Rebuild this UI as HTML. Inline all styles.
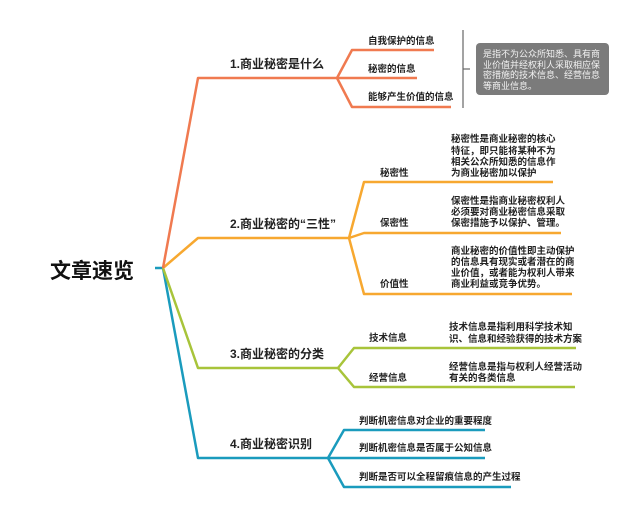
<!DOCTYPE html>
<html><head><meta charset="utf-8"><style>
body{margin:0;background:#fff;}
svg text{font-family:"Liberation Sans","Noto Sans CJK SC",sans-serif;}
</style></head><body>
<svg width="640" height="519" xmlns="http://www.w3.org/2000/svg">
<g fill="none" stroke-width="2.5" stroke-linejoin="round">
<polyline stroke="#1a9bbd" points="155,268 163,268 198,458 328,458"/>
<polyline stroke="#1a9bbd" points="485,430 344,430 328,458 344,487 511,487"/>
<line stroke="#1a9bbd" x1="328" y1="458" x2="485" y2="458"/>
<polyline stroke="#a8c43a" points="163,268 198,368 338,368"/>
<polyline stroke="#a8c43a" points="576,348 354,348 338,368 354,387 575,387"/>
<polyline stroke="#f7a830" points="163,268 198,238 349,238"/>
<polyline stroke="#f7a830" points="553,182 364,182 349,238 364,294 572,294"/>
<polyline stroke="#f7a830" points="349,238 364,233 561,233"/>
<polyline stroke="#f07a50" points="163,268 198,78 337,78"/>
<polyline stroke="#f07a50" points="434,50 352,50 337,78 352,107 451,107"/>
<line stroke="#f07a50" x1="337" y1="78" x2="417" y2="78"/>
</g>
<line x1="463" y1="30" x2="463" y2="108" stroke="#666" stroke-width="1.2"/>
<line x1="463" y1="69" x2="470" y2="69" stroke="#666" stroke-width="1.2"/>
<rect x="476" y="43" width="133" height="52" rx="4" fill="#7b7b7b"/>
<g fill="#f2f2f2" font-size="9">
<text x="483" y="57">是指不为公众所知悉、具有商</text>
<text x="483" y="68">业价值并经权利人采取相应保</text>
<text x="483" y="78">密措施的技术信息、经营信息</text>
<text x="483" y="89">等商业信息。</text>
</g>
<text x="50" y="278" font-size="21" font-weight="bold" fill="#111">文章速览</text>
<g font-size="12" font-weight="bold" fill="#222">
<text x="230" y="68">1.商业秘密是什么</text>
<text x="230" y="228">2.商业秘密的“三性”</text>
<text x="230" y="358">3.商业秘密的分类</text>
<text x="230" y="448">4.商业秘密识别</text>
</g>
<g font-size="9.5" fill="#222" font-weight="600">
<text x="368" y="44">自我保护的信息</text>
<text x="368" y="72">秘密的信息</text>
<text x="368" y="100">能够产生价值的信息</text>
<text x="380" y="176">秘密性</text>
<text x="380" y="226">保密性</text>
<text x="380" y="287">价值性</text>
<text x="451" y="142">秘密性是商业秘密的核心</text>
<text x="451" y="154">特征，即只能将某种不为</text>
<text x="451" y="165">相关公众所知悉的信息作</text>
<text x="451" y="176">为商业秘密加以保护</text>
<text x="451" y="204">保密性是指商业秘密权利人</text>
<text x="451" y="215">必须要对商业秘密信息采取</text>
<text x="451" y="226">保密措施予以保护、管理。</text>
<text x="451" y="254">商业秘密的价值性即主动保护</text>
<text x="451" y="265">的信息具有现实或者潜在的商</text>
<text x="451" y="276">业价值，或者能为权利人带来</text>
<text x="451" y="287">商业利益或竞争优势。</text>
<text x="369" y="341">技术信息</text>
<text x="369" y="381">经营信息</text>
<text x="449" y="330">技术信息是指利用科学技术知</text>
<text x="449" y="342">识、信息和经验获得的技术方案</text>
<text x="449" y="370">经营信息是指与权利人经营活动</text>
<text x="449" y="381">有关的各类信息</text>
<text x="359" y="424">判断机密信息对企业的重要程度</text>
<text x="359" y="451">判断机密信息是否属于公知信息</text>
<text x="359" y="480">判断是否可以全程留痕信息的产生过程</text>
</g>
</svg>
</body></html>
